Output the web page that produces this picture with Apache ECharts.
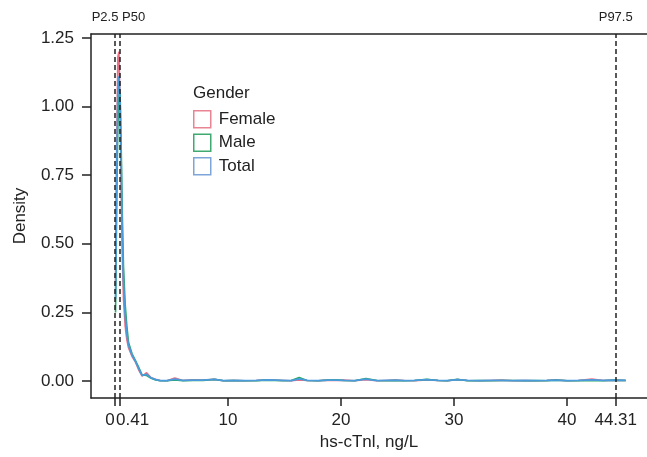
<!DOCTYPE html>
<html>
<head>
<meta charset="utf-8">
<script src="https://cdn.jsdelivr.net/npm/echarts@6/dist/echarts.min.js"></script>
<style>
  html, body { margin: 0; padding: 0; background: #fff; }
  #main { width: 647px; height: 457px; }
</style>
</head>
<body>
<div id="main"></div>
<script>
// density estimates
const xs = [0.05, 0.15, 0.25, 0.35, 0.45, 0.55, 0.65, 0.75, 0.9, 1.05, 1.2, 1.5, 1.8, 2.1, 2.4, 2.8, 3.2, 3.6, 4.0,
  4.6, 5.3, 6.0, 6.9, 7.8, 8.8, 9.6, 10.5, 11.5, 12.5, 13.5, 14.9, 15.6, 16.3, 17.0, 18.0, 18.8, 19.6, 20.3,
  21.2, 22.2, 23.2, 24.0, 24.8, 25.6, 26.5, 27.6, 28.6, 29.4, 30.3, 31.2, 32.2, 33.2, 34.2, 35.2, 36.2, 37.2,
  38.2, 39.0, 40.0, 41.0, 42.2, 43.2, 44.2, 45.2];
const female = [0.35, 0.85, 1.18, 1.2, 1.0, 0.7, 0.45, 0.3, 0.2, 0.15, 0.12, 0.09, 0.07, 0.04, 0.018, 0.03, 0.012, 0.006, 0.002,
  0.001, 0.011, 0.002, 0.004, 0.003, 0.006, 0.001, 0.002, 0.001, 0.002, 0.004, 0.002, 0.001, 0.004, 0.002, 0.001, 0.003, 0.002, 0.003,
  0.001, 0.005, 0.001, 0.002, 0.003, 0.002, 0.001, 0.004, 0.002, 0.001, 0.005, 0.002, 0.001, 0.002, 0.003, 0.001, 0.002, 0.001,
  0.002, 0.004, 0.001, 0.002, 0.007, 0.002, 0.003, 0.002];
const male = [0.25, 0.65, 0.92, 1.04, 1.05, 0.85, 0.6, 0.42, 0.28, 0.2, 0.14, 0.1, 0.075, 0.05, 0.022, 0.02, 0.01, 0.004, 0.001,
  0.001, 0.004, 0.001, 0.002, 0.002, 0.006, 0.001, 0.002, 0.001, 0.001, 0.003, 0.001, 0.002, 0.013, 0.002, 0.001, 0.003, 0.004, 0.002,
  0.001, 0.009, 0.002, 0.001, 0.002, 0.001, 0.002, 0.006, 0.002, 0.001, 0.006, 0.001, 0.002, 0.001, 0.002, 0.002, 0.001, 0.002,
  0.001, 0.003, 0.001, 0.001, 0.002, 0.001, 0.003, 0.002];
const total = [0.3, 0.75, 1.05, 1.11, 1.02, 0.78, 0.52, 0.36, 0.24, 0.17, 0.13, 0.095, 0.072, 0.045, 0.02, 0.024, 0.011, 0.005, 0.001,
  0.001, 0.007, 0.002, 0.003, 0.003, 0.006, 0.001, 0.002, 0.001, 0.002, 0.004, 0.002, 0.001, 0.008, 0.002, 0.001, 0.003, 0.003, 0.002,
  0.001, 0.007, 0.001, 0.002, 0.003, 0.001, 0.002, 0.005, 0.002, 0.001, 0.005, 0.002, 0.001, 0.002, 0.002, 0.001, 0.002, 0.001,
  0.002, 0.003, 0.001, 0.002, 0.004, 0.002, 0.003, 0.002];

const groups = ['Female', 'Male', 'Total'];
const xTicks = [0, 0.41, 10, 20, 30, 40, 44.31];
const yTicks = [0, 0.25, 0.5, 0.75, 1, 1.25];
const pctValues = [0, 0.41, 44.31];
const pctLabels = ['P2.5', 'P50', 'P97.5'];

const colors = { Female: '#ec6f86', Male: '#27a866', Total: '#4a9bdb' };
const keyColors = { Female: '#e98494', Male: '#3fa970', Total: '#7ea5d9' };
const font = 'Liberation Sans, Arial, sans-serif';

function pairs(ys) {
  return xs.map((x, i) => [x, ys[i]]);
}

var myChart = echarts.init(document.getElementById('main'));

var option = {
  animation: false,
  textStyle: { fontFamily: font },
  title: {
    text: 'Gender',
    left: 188,
    top: 80,
    textStyle: { fontSize: 17, fontWeight: 'normal', color: '#222', fontFamily: font }
  },
  legend: {
    orient: 'vertical',
    left: 193,
    top: 110,
    padding: 0,
    icon: 'rect',
    itemWidth: 17,
    itemHeight: 17,
    itemGap: 5,
    data: groups.map(g => ({
      name: g,
      itemStyle: { color: '#fff', borderColor: keyColors[g], borderWidth: 1.5 }
    })),
    textStyle: { fontSize: 17, color: '#222', fontFamily: font, padding: [0, 0, 0, 3] }
  },
  grid: { left: 91, right: 0, top: 34, bottom: 59 },
  xAxis: [{
    type: 'value',
    min: -2.124,
    max: 47.08,
    splitLine: { show: false },
    axisLine: { onZero: false, lineStyle: { color: '#222', width: 1.5 } },
    axisTick: { customValues: xTicks, length: 8, lineStyle: { color: '#222', width: 1.5 } },
    axisLabel: {
      customValues: xTicks,
      margin: 14,
      fontSize: 17,
      color: '#222',
      formatter: function (v) {
        if (v === 0) return '{l|0}';
        if (v === 0.41) return '{r|0.41}';
        return String(v);
      },
      rich: {
        l: { fontSize: 17, color: '#222', padding: [0, 10, 0, 0] },
        r: { fontSize: 17, color: '#222', padding: [0, 0, 0, 26] }
      }
    },
    name: 'hs-cTnl, ng/L',
    nameLocation: 'middle',
    nameGap: 36,
    nameTextStyle: { fontSize: 17, color: '#222' }
  }, {
    type: 'value',
    position: 'top',
    min: -2.124,
    max: 47.08,
    splitLine: { show: false },
    axisLine: { onZero: false, lineStyle: { color: '#222', width: 1.5 } },
    axisTick: { show: false },
    axisLabel: {
      customValues: pctValues,
      margin: 10,
      fontSize: 13,
      color: '#222',
      formatter: function (v) {
        const i = pctValues.indexOf(v);
        if (i === 0) return '{l|' + pctLabels[0] + '}';
        if (i === 1) return '{r|' + pctLabels[1] + '}';
        return pctLabels[i];
      },
      rich: {
        l: { fontSize: 13, color: '#222', padding: [0, 20, 0, 0] },
        r: { fontSize: 13, color: '#222', padding: [0, 0, 0, 28] }
      }
    }
  }],
  yAxis: {
    type: 'value',
    min: -0.062,
    max: 1.2646,
    splitLine: { show: false },
    axisLine: { show: true, onZero: false, lineStyle: { color: '#222', width: 1.5 } },
    axisTick: { show: true, customValues: yTicks, length: 9, lineStyle: { color: '#222', width: 1.5 } },
    axisLabel: {
      customValues: yTicks,
      margin: 17,
      fontSize: 17,
      color: '#222',
      formatter: function (v) { return v.toFixed(2); }
    },
    name: 'Density',
    nameLocation: 'middle',
    nameGap: 62,
    nameTextStyle: { fontSize: 17, color: '#222' }
  },
  series: [{
    name: 'Female',
    type: 'line',
    data: pairs(female),
    showSymbol: false,
    color: colors.Female,
    lineStyle: { width: 1.6 }
  }, {
    name: 'Male',
    type: 'line',
    data: pairs(male),
    showSymbol: false,
    color: colors.Male,
    lineStyle: { width: 1.6 }
  }, {
    name: 'Total',
    type: 'line',
    data: pairs(total),
    showSymbol: false,
    color: colors.Total,
    lineStyle: { width: 1.8 },
    markLine: {
      silent: true,
      symbol: 'none',
      label: { show: false },
      lineStyle: { color: '#222', type: [5, 3], width: 1.5 },
      data: pctValues.map(v => ({ xAxis: v }))
    }
  }]
};

option && myChart.setOption(option);
</script>
</body>
</html>
